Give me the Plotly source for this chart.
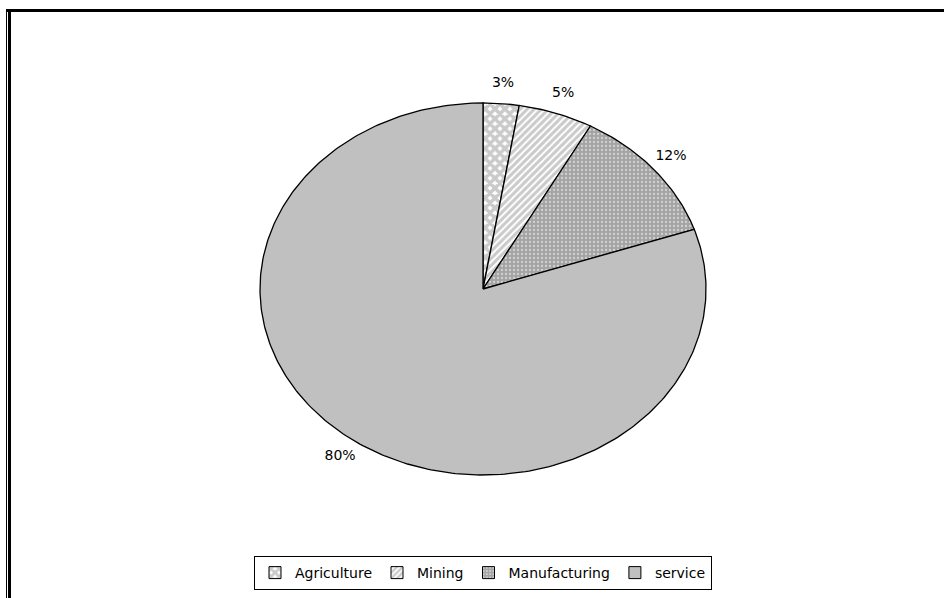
import numpy as np
import plotly.graph_objects as go

categories = ["Agriculture", "Mining", "Manufacturing", "service"]
values = [2.6, 5.4, 11.8, 80.2]

fills = ["white", "white", "#a6a6a6", "#c0c0c0"]
patterns = [
    dict(shape="x", fgcolor="#959595", bgcolor="white", size=7, solidity=0.75),
    dict(shape="/", fgcolor="#959595", bgcolor="white", size=5, solidity=0.6),
    dict(shape=".", fgcolor="white", bgcolor="#a4a4a4", size=4, solidity=0.25),
    None,
]

FONT = "DejaVu Sans, Arial, sans-serif"

fig = go.Figure()
total = float(sum(values))
cum = 0.0
label_x, label_y, label_t = [], [], []
for name, v, fc, pat in zip(categories, values, fills, patterns):
    a0 = cum / total * 2 * np.pi
    a1 = (cum + v) / total * 2 * np.pi
    n = max(4, int(v * 4))
    th = np.linspace(a0, a1, n)
    xs = np.concatenate([[0.0], np.sin(th), [0.0]])
    ys = np.concatenate([[0.0], np.cos(th), [0.0]])
    kw = dict(fillpattern=pat) if pat else {}
    fig.add_trace(go.Scatter(
        x=xs, y=ys, mode="lines", fill="toself", fillcolor=fc,
        line=dict(color="black", width=1.3), name=name, legendgroup=name,
        showlegend=False, hoverinfo="skip", **kw))
    # legend-only entry with a square swatch
    mk = dict(color=fc, line=dict(color="black", width=1))
    if pat:
        mk["pattern"] = pat
    fig.add_trace(go.Bar(
        x=[None], y=[None], name=name, legendgroup=name,
        marker=mk, showlegend=True, hoverinfo="skip"))
    mid = (a0 + a1) / 2
    label_x.append(1.1 * np.sin(mid))
    label_y.append(1.11 * np.cos(mid))
    label_t.append(f"{round(v / total * 100)}%")
    cum += v

fig.add_trace(go.Scatter(
    x=label_x, y=label_y, mode="text", text=label_t,
    textposition="middle center",
    textfont=dict(family=FONT, size=14, color="black"),
    showlegend=False, hoverinfo="skip"))

W, H = 944, 598
cx, cy, rx, ry = 483, 289, 223, 186
fig.update_layout(
    width=W, height=H,
    margin=dict(l=0, r=0, t=0, b=0),
    paper_bgcolor="white", plot_bgcolor="white",
    xaxis=dict(range=[-cx / rx, (W - cx) / rx], visible=False, fixedrange=True),
    yaxis=dict(range=[-(H - cy) / ry, cy / ry], visible=False, fixedrange=True),
    showlegend=True,
    legend=dict(
        orientation="h", x=483 / W, xanchor="center", y=8 / H, yanchor="bottom",
        bgcolor="white", bordercolor="black", borderwidth=1,
        font=dict(family=FONT, size=14, color="black"),
        itemclick=False, itemdoubleclick=False, traceorder="normal",
        itemwidth=30,
    ),
    shapes=[
        dict(type="line", xref="paper", yref="paper", x0=6 / W, x1=1, y0=1 - 10.5 / H, y1=1 - 10.5 / H,
             line=dict(color="black", width=3)),
        dict(type="line", xref="paper", yref="paper", x0=6.5 / W, x1=6.5 / W, y0=0, y1=1 - 9 / H,
             line=dict(color="black", width=1)),
        dict(type="line", xref="paper", yref="paper", x0=9.5 / W, x1=9.5 / W, y0=0, y1=1 - 9 / H,
             line=dict(color="black", width=3)),
    ],
)

fig.write_html("out.html")
